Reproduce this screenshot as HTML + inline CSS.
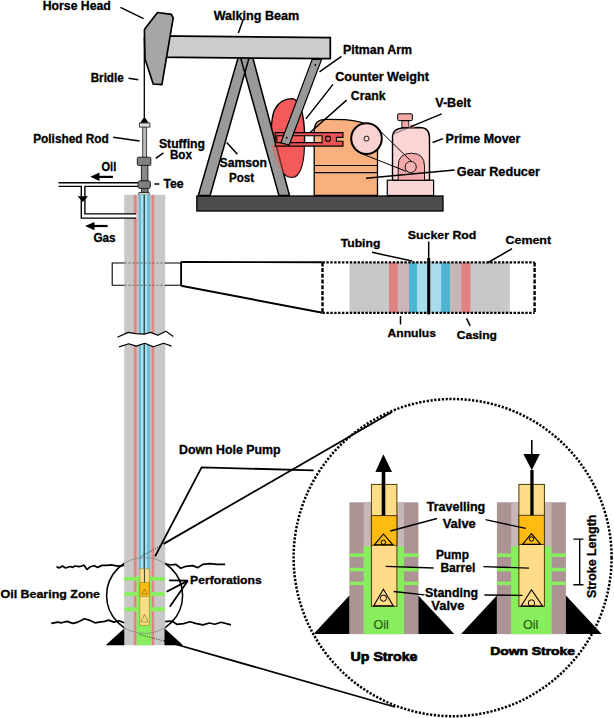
<!DOCTYPE html>
<html><head><meta charset="utf-8"><style>
html,body{margin:0;padding:0;background:#fff;width:614px;height:718px;overflow:hidden}
svg{display:block}
text{font-family:"Liberation Sans",sans-serif;font-weight:bold;font-size:12px;fill:#000;stroke:#000;stroke-width:0.3}
text.hv{stroke-width:0.65}
text.oil{font-weight:normal;fill:#286010;stroke:#286010;stroke-width:0.2;font-size:12.5px}
</style></head><body>
<svg width="614" height="718" viewBox="0 0 614 718">
<rect width="614" height="718" fill="#fff"/>

<!-- ===== PUMP JACK ===== -->
<!-- base -->
<rect x="196.8" y="196" width="246.2" height="15" fill="#4d4d4d" stroke="#000" stroke-width="1.3"/>

<!-- counter weight -->
<path id="cw" d="M291.8,98.6 C300,99 304.6,115 304.6,138 C304.6,162 300.5,177.4 291.8,177.4 C283,177.4 276,165 272.5,150 C270.5,140 270.5,120 274.5,110 C278.5,102 285,98.6 291.8,98.6 Z" fill="#f55a5a" stroke="#000" stroke-width="1.4"/>
<!-- samson post legs -->
<polygon points="238.3,57 249.3,57 210.1,195.5 198.3,195.5" fill="#999"/>
<polygon points="240.4,57 252.6,57 289.5,195.5 278.9,195.5" fill="#999"/>
<polygon points="238.3,57 249.3,57 210.1,195.5 198.3,195.5" fill="none" stroke="#000" stroke-width="1.5"/>
<polygon points="240.4,57 252.6,57 289.5,195.5 278.9,195.5" fill="none" stroke="#000" stroke-width="1.5"/>
<clipPath id="cwclip"><path d="M291.8,98.6 C300,99 304.6,115 304.6,138 C304.6,162 300.5,177.4 291.8,177.4 C283,177.4 276,165 272.5,150 C270.5,140 270.5,120 274.5,110 C278.5,102 285,98.6 291.8,98.6 Z"/></clipPath>
<rect x="260" y="145" width="50" height="40" fill="#f55a5a" opacity="0.45" clip-path="url(#cwclip)"/>

<!-- gear reducer -->
<path d="M314.2,131 Q314.2,119.3 326,119.3 L345,119.6 Q362,121 373,127 L377.5,135 L377.5,195.5 L314.2,195.5 Z" fill="#f8b07e" stroke="#000" stroke-width="1.3"/>
<line x1="314.2" y1="165.5" x2="377.7" y2="165.5" stroke="#000" stroke-width="1.2"/>
<line x1="314.2" y1="172.6" x2="377.7" y2="172.6" stroke="#000" stroke-width="1.2"/>

<!-- crank -->
<path d="M275.2,132.6 H343 V137.4 H336.4 V141.3 H343 V146.1 H275.2 Z M276.8,135.8 H322.1 V142.6 H276.8 Z" fill="#e85353" fill-rule="evenodd" stroke="#000" stroke-width="1.1"/>
<circle cx="328" cy="138.7" r="2.6" fill="none" stroke="#000" stroke-width="1.1"/>
<!-- pitman arm -->
<polygon points="312.2,59.4 321.6,59.4 289.2,145 280.9,142.9" fill="#999" stroke="#000" stroke-width="1.2"/>
<circle cx="315.3" cy="65" r="0.9" fill="#000"/>
<circle cx="286.7" cy="137.7" r="0.9" fill="#000"/>

<!-- big wheel -->
<circle cx="366.5" cy="138.6" r="15.3" fill="#fad2d2" stroke="#000" stroke-width="2"/>
<circle cx="366.5" cy="138.6" r="2.5" fill="none" stroke="#000" stroke-width="0.9"/>

<!-- prime mover -->
<rect x="387.3" y="180.2" width="46.3" height="15.3" fill="#fad7d7" stroke="#000" stroke-width="1.2"/>
<path d="M392.5,180.2 L392.5,136 Q393,131 398,129 Q402,127.8 406,127.8 L419.5,127.5 Q429.5,127.5 429.5,137.5 L429.5,180.2 Z" fill="#fdd5d5" stroke="#000" stroke-width="1.4"/>
<rect x="401.9" y="120.7" width="6.9" height="6.8" fill="#f4a9a9" stroke="#000" stroke-width="0.9"/>
<rect x="397.7" y="113.8" width="14.7" height="6.8" rx="1.2" fill="#f4a9a9" stroke="#000" stroke-width="1"/>
<rect x="408.8" y="124.4" width="6" height="3.1" fill="#f4a9a9"/>
<path d="M398.2,180.2 L398.2,166 Q398.2,153.2 411.3,153.2 Q424.5,153.2 424.5,166 L424.5,180.2 Z" fill="#f4aaaa" stroke="#000" stroke-width="0.9"/>
<circle cx="410.7" cy="167" r="5.6" fill="#f6b4b4" stroke="#000" stroke-width="0.9"/>
<!-- v-belt lines -->
<line x1="374" y1="125" x2="412" y2="162" stroke="#000" stroke-width="1"/>
<line x1="360" y1="153" x2="406.3" y2="171.4" stroke="#000" stroke-width="1"/>
<line x1="392.5" y1="134.4" x2="414" y2="125.5" stroke="#333" stroke-width="0.7"/>

<!-- walking beam -->
<polygon points="157,35.8 330.3,37.7 330.3,58.7 157,57.2" fill="#ccc" stroke="#000" stroke-width="1.7"/>
<!-- horse head -->
<polygon points="157.6,12.5 171.3,14.4 173.2,17.8 161.9,84.6 153.2,84 145,58.9 144.4,30 145.7,27.6" fill="#a6a6a6" stroke="#000" stroke-width="1.7"/>

<!-- bridle -->
<line x1="144.3" y1="37" x2="144.3" y2="117" stroke="#000" stroke-width="1.3"/>
<polygon points="144.3,116.5 140.1,122.9 148.7,122.9" fill="#000"/>
<!-- polished rod -->
<rect x="142.7" y="127" width="3.9" height="31" fill="#bbb" stroke="#333" stroke-width="0.9"/>
<rect x="139.4" y="123" width="10.5" height="4.1" fill="#ddd" stroke="#333" stroke-width="0.9"/>
<rect x="141.4" y="165.4" width="6.5" height="15.4" fill="#8a8a8a" stroke="#222" stroke-width="1"/>
<rect x="137.3" y="157.2" width="13.5" height="8.2" rx="1.2" fill="#808080" stroke="#222" stroke-width="1"/>
<rect x="141.6" y="188" width="6.5" height="5" fill="#777" stroke="#222" stroke-width="0.9"/>
<rect x="138.7" y="192.4" width="10.6" height="3" rx="1" fill="#c8d0c0" stroke="#222" stroke-width="1"/>
<rect x="138.1" y="180.8" width="12.3" height="7.6" rx="2" fill="#808080" stroke="#222" stroke-width="1"/>

<!-- ===== WELL ===== -->
<g id="well">
<rect x="124.2" y="194.8" width="41" height="450.4" fill="#c8c8c8"/>
<rect x="133.8" y="194.8" width="2.9" height="450.4" fill="#de8585"/>
<rect x="151.4" y="194.8" width="2.8" height="450.4" fill="#de8585"/>
<rect x="136.7" y="194.8" width="14.7" height="450.4" fill="#c9bcbc"/>
<rect x="139" y="194.8" width="10.7" height="374.2" fill="#62bcd4"/>
<rect x="141" y="194.8" width="6.3" height="374.2" fill="#aadfee"/>
<rect x="143.6" y="194.8" width="1.2" height="388" fill="#1a3040"/>
</g>
<rect x="124" y="214.2" width="12.5" height="3.4" fill="#fff"/>
<!-- oil / gas pipes -->
<path d="M58.5,182.8 L138,182.8" stroke="#000" stroke-width="1.4" fill="none"/>
<path d="M58.5,186.4 L81.3,186.4 L81.3,218.1 L136,218.1" stroke="#000" stroke-width="1.4" fill="none"/>
<path d="M138,186.4 L84.9,186.4 L84.9,213.9 L136,213.9" stroke="#000" stroke-width="1.4" fill="none"/>
<polygon points="77.5,196.3 88,196.3 82.8,202" fill="#000"/>
<!-- arrows -->
<line x1="113" y1="176.9" x2="96" y2="176.9" stroke="#000" stroke-width="2.2"/>
<polygon points="90.3,176.8 99.5,172.4 99.5,181" fill="#000"/>
<line x1="107.6" y1="226" x2="91" y2="226" stroke="#000" stroke-width="2.2"/>
<polygon points="85,226 94.5,222 94.5,230.2" fill="#000"/>
<!-- oil zone in well -->
<rect x="136.6" y="576" width="14.8" height="69.2" fill="#88ee5e"/>
<rect x="124.3" y="576.9" width="40.4" height="3.9" fill="#88ee5e"/>
<rect x="124.3" y="592.1" width="40.4" height="4" fill="#88ee5e"/>
<rect x="124.3" y="607.3" width="40.4" height="4" fill="#88ee5e"/>
<!-- mini pump -->
<rect x="139.9" y="568.9" width="9.3" height="56.3" fill="#ffdd88" stroke="#a08020" stroke-width="0.6"/>
<rect x="139.9" y="582.5" width="9.3" height="13.8" fill="#ffba10" stroke="#a08020" stroke-width="0.6"/>
<line x1="144.4" y1="569" x2="144.4" y2="582.5" stroke="#222" stroke-width="0.9"/>
<polygon points="144.5,589 141.8,594 147.2,594" fill="none" stroke="#806000" stroke-width="0.6"/>
<polygon points="144.5,614 141,622 148,622" fill="none" stroke="#806000" stroke-width="0.6"/>

<!-- cross-section zoom box on well -->
<path d="M124.3,263 L112.2,263 L112.2,285.2 L124.3,285.2" fill="none" stroke="#000" stroke-width="1.1"/>
<path d="M164.7,263 L181.2,263 M164.7,285.2 L181.2,285.2" fill="none" stroke="#000" stroke-width="1.1"/>
<path d="M124.3,263 L164.7,263 M124.3,285.2 L164.7,285.2" fill="none" stroke="#555" stroke-width="0.7" stroke-dasharray="2.5,1.5"/>

<!-- break -->
<polygon points="117.4,337.3 128.2,332.4 135.7,333.6 144.2,334.1 150.5,332.4 157.9,335.3 165.9,331.3 173.3,336.4 171.6,346.1 163.6,343.2 153.3,346.7 144.8,343.2 136.2,346.1 128.8,343.8 119.1,346.9" fill="#fff"/>
<polyline points="117.4,337.3 128.2,332.4 135.7,333.6 144.2,334.1 150.5,332.4 157.9,335.3 165.9,331.3 173.3,336.4" fill="none" stroke="#000" stroke-width="1.2" stroke-linejoin="round"/>
<polyline points="119.1,346.9 128.8,343.8 136.2,346.1 144.8,343.2 153.3,346.7 163.6,343.2 171.6,346.1" fill="none" stroke="#000" stroke-width="1.2" stroke-linejoin="round"/>
<!-- trapezoid -->
<path d="M181.1,261.8 L181.1,285.7 M181.1,262 L322.5,262.2 M181.1,285.7 L322.5,312.8" fill="none" stroke="#000" stroke-width="1.9"/>

<!-- enlarged cross-section -->
<rect x="349.5" y="262.5" width="160.3" height="50.3" fill="#c8c8c8"/>
<rect x="389" y="262.5" width="8.9" height="50.3" fill="#e08282"/>
<rect x="397.9" y="262.5" width="11.1" height="50.3" fill="#cab6b6"/>
<rect x="409" y="262.5" width="8.1" height="50.3" fill="#4db6d3"/>
<rect x="417.1" y="262.5" width="10.1" height="50.3" fill="#a9dded"/>
<rect x="430.2" y="262.5" width="10.9" height="50.3" fill="#a9dded"/>
<rect x="441.1" y="262.5" width="8.9" height="50.3" fill="#4db6d3"/>
<rect x="450" y="262.5" width="11.4" height="50.3" fill="#cab6b6"/>
<rect x="461.4" y="262.5" width="9" height="50.3" fill="#e08282"/>
<rect x="427.2" y="258" width="3" height="56.4" fill="#000"/>
<path d="M322.5,262.4 H534.6 M322.5,312.8 H534.6" fill="none" stroke="#000" stroke-width="2.2" stroke-dasharray="2.4,1.5"/>
<path d="M534.6,262.4 V312.8" fill="none" stroke="#000" stroke-width="2.4" stroke-dasharray="4,1.7"/>
<path d="M322.5,262.4 V312.8" fill="none" stroke="#000" stroke-width="2.4" stroke-dasharray="4,1.7"/>

<!-- ===== small magnifier circle and lines ===== -->
<clipPath id="outwell"><path d="M0,0 H614 V718 H0 Z M124.2,194.8 H165.2 V645.2 H124.2 Z" clip-rule="evenodd"/></clipPath>
<clipPath id="inwell"><rect x="124.2" y="194.8" width="41" height="450.4"/></clipPath>
<polyline points="56.5,566.5 59.1,568 62.4,566 65.6,568 70.2,566.5 72.8,567.4 74.8,566 79.3,566.7 83.9,565.2 87.1,569.4 90.4,566.7 94.3,565.7 97.6,567.4 102.1,565.4 107.3,565.4 111.2,564.8 117.8,566.1 124.2,565.4" fill="none" stroke="#000" stroke-width="1.7" stroke-linejoin="round"/>
<polyline points="51.3,623.4 57.8,622.1 61.7,622.8 66.9,621.4 72.8,623.4 78,622.1 84.5,618.8 89.1,620.1 95,622.8 99.5,622.1 104.7,621.4 108.6,620.1 113.8,622.1 119,620.8 124.2,622.8" fill="none" stroke="#000" stroke-width="1.7" stroke-linejoin="round"/>
<polyline points="165.2,563.7 170.4,565 175.6,564.3 180.8,568.2 186,566.3 192.6,565.6 197.8,567.6 203,564.3 209.5,563.7 217.3,564.3 225.1,564.3" fill="none" stroke="#000" stroke-width="1.7" stroke-linejoin="round"/>
<polyline points="165.2,621.7 171.7,621 176.9,624.3 183.5,623.6 190,621.7 196.5,623.6 203,624.9 209.5,623 214.7,624.3 221.2,622.3 231,624.9" fill="none" stroke="#000" stroke-width="1.7" stroke-linejoin="round"/>
<circle cx="144.6" cy="595.5" r="38" fill="none" stroke="#000" stroke-width="1.5" clip-path="url(#outwell)"/>
<circle cx="144.6" cy="595.5" r="38" fill="none" stroke="#888" stroke-width="0.8" clip-path="url(#inwell)"/>
<polygon points="105.7,645.2 124.3,645.2 124.3,628.2" fill="#000"/>
<polygon points="164.5,628.2 164.5,645.2 183,645.2" fill="#000"/>

<!-- tangent lines -->
<line x1="163.6" y1="543.9" x2="392" y2="412" stroke="#000" stroke-width="1.8"/>
<line x1="140.3" y1="557" x2="163.6" y2="543.9" stroke="#222" stroke-width="0.8" stroke-dasharray="1.2,1.2"/>
<path d="M313.6,470.3 L201.6,467.4 L155.1,556.4" fill="none" stroke="#000" stroke-width="1.8"/>
<line x1="164.2" y1="641" x2="395" y2="707" stroke="#000" stroke-width="1.8"/>
<line x1="139.8" y1="634.5" x2="164.2" y2="641" stroke="#222" stroke-width="0.8" stroke-dasharray="1.2,1.2"/>
<!-- perforation pointer lines -->
<path d="M188,580.6 L169.1,580.3 M188,580.6 L166.5,591.7 M188,580.6 L169.8,606.7" stroke="#000" stroke-width="1.8" fill="none"/>

<!-- ===== big circle ===== -->
<ellipse cx="452.6" cy="557.6" rx="159" ry="158.6" fill="none" stroke="#000" stroke-width="2.5" stroke-dasharray="2.2,1.6"/>

<!-- up stroke pump -->
<g id="pumpU">
<rect x="349.4" y="502.3" width="69" height="131.8" fill="#ac9494"/>
<rect x="363.7" y="502.3" width="40.3" height="131.8" fill="#c9b6b6"/>
<rect x="363.7" y="546.3" width="40.3" height="87.8" fill="#88ee5e"/>
<rect x="349.4" y="553.4" width="69" height="3.6" fill="#88ee5e"/>
<rect x="349.4" y="567.8" width="69" height="3.6" fill="#88ee5e"/>
<rect x="349.4" y="581.6" width="69" height="3.5" fill="#88ee5e"/>
<rect x="371.4" y="484.4" width="25.5" height="121.9" fill="#ffdc88" stroke="#4a3a08" stroke-width="1"/>
<polygon points="313.6,634.1 349.4,634.1 349.4,595.5" fill="#000"/>
<polygon points="418.4,595.5 418.4,634.1 454.2,634.1" fill="#000"/>
</g>
<rect x="371.4" y="515.6" width="25.5" height="29.7" fill="#ffbb11" stroke="#4a3a08" stroke-width="1"/>
<polygon points="383.4,534 374.5,544.8 392.8,544.8" fill="none" stroke="#000" stroke-width="1.1"/>
<circle cx="383.4" cy="542.3" r="2.2" fill="none" stroke="#000" stroke-width="1"/>
<polygon points="383.4,589.3 373.6,605.9 393.3,605.9" fill="none" stroke="#000" stroke-width="1.1"/>
<circle cx="383.4" cy="598.2" r="3.1" fill="none" stroke="#000" stroke-width="1"/>
<rect x="381.7" y="471" width="3.6" height="44.5" fill="#000"/>
<polygon points="383.4,454.3 375.4,471.9 392,471.9" fill="#000"/>

<!-- down stroke pump -->
<g transform="translate(147.5,0)">
<rect x="349.4" y="502.3" width="69" height="131.8" fill="#ac9494"/>
<rect x="363.7" y="502.3" width="40.3" height="131.8" fill="#c9b6b6"/>
<rect x="363.7" y="546.3" width="40.3" height="87.8" fill="#88ee5e"/>
<rect x="349.4" y="553.4" width="69" height="3.6" fill="#88ee5e"/>
<rect x="349.4" y="567.8" width="69" height="3.6" fill="#88ee5e"/>
<rect x="349.4" y="581.6" width="69" height="3.5" fill="#88ee5e"/>
<rect x="371.4" y="484.4" width="25.5" height="121.9" fill="#ffdc88" stroke="#4a3a08" stroke-width="1"/>
<polygon points="313.6,634.1 349.4,634.1 349.4,595.5" fill="#000"/>
<polygon points="418.4,595.5 418.4,634.1 454.2,634.1" fill="#000"/>
</g>
<rect x="518.9" y="515.3" width="25.5" height="29.1" fill="#ffbb11" stroke="#4a3a08" stroke-width="1"/>
<polygon points="531.5,533.6 522.5,544.4 540.6,544.4" fill="none" stroke="#000" stroke-width="1.1"/>
<circle cx="531.5" cy="539" r="2.2" fill="none" stroke="#000" stroke-width="1"/>
<polygon points="531.5,589.7 521,606.1 542.7,606.1" fill="none" stroke="#000" stroke-width="1.1"/>
<circle cx="531.5" cy="603" r="3.2" fill="none" stroke="#000" stroke-width="1"/>
<rect x="530.3" y="470" width="3.3" height="45.3" fill="#000"/>
<line x1="531.8" y1="440" x2="531.8" y2="456" stroke="#000" stroke-width="1.6"/>
<polygon points="523.4,454 539.9,454 531.8,470.2" fill="#000"/>

<!-- stroke length bracket -->
<path d="M573.4,539.1 L583.5,539.1 M579.7,539.1 L579.7,584.8 M573.4,584.8 L583.5,584.8" stroke="#000" stroke-width="1.4" fill="none"/>

<!-- labels in circle lines -->
<path d="M437,518.5 L390.3,531 M485.5,519.7 L525.8,528.4 M433.6,568 L385.7,566.4 M483.3,566.6 L529,568.1 M424.5,594.9 L393.7,591.5 M484.4,595 L522.6,595.4" stroke="#000" stroke-width="1.3" fill="none"/>

<!-- ===== label leader lines (top) ===== -->
<path d="M120.4,7.3 L143.6,18.7 M128.5,78.2 L138.3,79.8 M243.3,19.4 L238.3,33 M341.4,56.3 L319.5,71.9 M333,84.4 L305.9,118.9 M346.6,100.1 L310.1,132.5 M441.7,113.9 L410.4,126.9 M443,138.6 L432.6,142.5 M454.7,169.9 L366,178.2 M113.2,137.2 L139.6,141 M155.8,158.4 L163.5,152.8 M154.4,184.1 L159.3,184.1 M226.7,142.4 L237.4,154.3" stroke="#000" stroke-width="1.5" fill="none"/>
<!-- cross-section leader lines -->
<path d="M372,252.3 L412.1,261.1 M428.7,241.5 L428.7,258 M512,248.7 L487.3,263 M400.5,316 L400.5,324.5 M466.5,318.4 L470.2,325.8" stroke="#000" stroke-width="1.5" fill="none"/>

<!-- ===== TEXT ===== -->
<text x="42.8" y="9.6" textLength="67.9" lengthAdjust="spacingAndGlyphs">Horse Head</text>
<text x="213.7" y="20" textLength="85.5" lengthAdjust="spacingAndGlyphs">Walking Beam</text>
<text x="343" y="53.5" textLength="69" lengthAdjust="spacingAndGlyphs">Pitman Arm</text>
<text x="335.2" y="81.3" textLength="93.8" lengthAdjust="spacingAndGlyphs">Counter Weight</text>
<text x="350.8" y="100.4" textLength="34.7" lengthAdjust="spacingAndGlyphs">Crank</text>
<text x="435.2" y="106.8" textLength="35.7" lengthAdjust="spacingAndGlyphs">V-Belt</text>
<text x="445.6" y="143" textLength="74.8" lengthAdjust="spacingAndGlyphs">Prime Mover</text>
<text x="456.8" y="176.4" textLength="83.1" lengthAdjust="spacingAndGlyphs">Gear Reducer</text>
<text x="90.7" y="82" textLength="33" lengthAdjust="spacingAndGlyphs">Bridle</text>
<text x="33.2" y="142.5" textLength="75.6" lengthAdjust="spacingAndGlyphs">Polished Rod</text>
<text x="159" y="147.8" textLength="45.9" lengthAdjust="spacingAndGlyphs">Stuffing</text>
<text x="169.9" y="158.5" textLength="22" lengthAdjust="spacingAndGlyphs">Box</text>
<text x="101.5" y="171.2" textLength="14.7" lengthAdjust="spacingAndGlyphs">Oil</text>
<text x="163.4" y="188.2" textLength="20.3" lengthAdjust="spacingAndGlyphs">Tee</text>
<text x="93.4" y="241.5" textLength="22.2" lengthAdjust="spacingAndGlyphs">Gas</text>
<text x="219.6" y="167.3" textLength="47.4" lengthAdjust="spacingAndGlyphs">Samson</text>
<text x="229" y="181.5" textLength="25" lengthAdjust="spacingAndGlyphs">Post</text>
<text style="font-size:11.2px" x="340.7" y="247" textLength="39.7" lengthAdjust="spacingAndGlyphs">Tubing</text>
<text style="font-size:11.2px" x="407.8" y="238.8" textLength="68.6" lengthAdjust="spacingAndGlyphs">Sucker Rod</text>
<text style="font-size:11.2px" x="505.5" y="244" textLength="45.6" lengthAdjust="spacingAndGlyphs">Cement</text>
<text style="font-size:11.2px" x="387.6" y="337.2" textLength="48.4" lengthAdjust="spacingAndGlyphs">Annulus</text>
<text style="font-size:11.2px" x="456.7" y="339.2" textLength="40.3" lengthAdjust="spacingAndGlyphs">Casing</text>
<text x="179" y="453.9" textLength="101.6" lengthAdjust="spacingAndGlyphs">Down Hole Pump</text>
<text style="font-size:11.2px" x="0.5" y="598.3" textLength="99.5" lengthAdjust="spacingAndGlyphs">Oil Bearing Zone</text>
<text style="font-size:11.2px" x="190" y="584.3" textLength="71.8" lengthAdjust="spacingAndGlyphs">Perforations</text>
<text x="426.7" y="510.5" textLength="58.6" lengthAdjust="spacingAndGlyphs">Travelling</text>
<text x="442.7" y="527.6" textLength="33.1" lengthAdjust="spacingAndGlyphs">Valve</text>
<text x="435.9" y="559.3" textLength="33" lengthAdjust="spacingAndGlyphs">Pump</text>
<text x="440.4" y="571.6" textLength="34.9" lengthAdjust="spacingAndGlyphs">Barrel</text>
<text x="425.1" y="596.7" textLength="52.9" lengthAdjust="spacingAndGlyphs">Standing</text>
<text x="431.3" y="610.4" textLength="33.1" lengthAdjust="spacingAndGlyphs">Valve</text>
<text x="373.6" y="628.7" textLength="15.2" lengthAdjust="spacingAndGlyphs" class="oil">Oil</text>
<text x="523" y="628.6" textLength="15.4" lengthAdjust="spacingAndGlyphs" class="oil">Oil</text>
<text class="hv" x="350.6" y="660.5" textLength="66.9" lengthAdjust="spacingAndGlyphs">Up Stroke</text>
<text class="hv" style="font-size:11.3px" x="490.3" y="655.4" textLength="84.7" lengthAdjust="spacingAndGlyphs">Down Stroke</text>
<text x="0" y="0" transform="translate(596,598.1) rotate(-90)" textLength="83.5" lengthAdjust="spacingAndGlyphs">Stroke Length</text>

</svg>
</body></html>
